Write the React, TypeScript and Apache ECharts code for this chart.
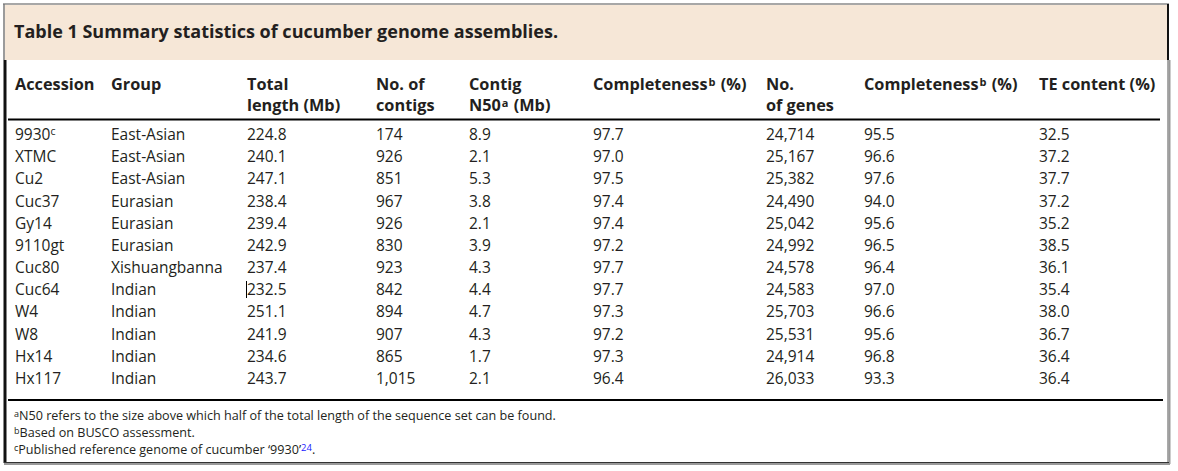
import React, { useEffect, useRef } from "react";
import * as echarts from "echarts";

const TITLE = "Table 1 Summary statistics of cucumber genome assemblies.";
const HEADER_LINE1 = ["Accession", "Group", "Total", "No. of", "Contig", "Completeness{sup|b} (%)", "No.", "Completeness{sup|b} (%)", "TE content (%)"];
const HEADER_LINE2 = ["", "", "length (Mb)", "contigs", "N50{sup|a} (Mb)", "", "of genes", "", ""];

const accessions = ["9930", "XTMC", "Cu2", "Cuc37", "Gy14", "9110gt", "Cuc80", "Cuc64", "W4", "W8", "Hx14", "Hx117"];
const accessionNotes = ["c", "", "", "", "", "", "", "", "", "", "", ""];
const groups = ["East-Asian", "East-Asian", "East-Asian", "Eurasian", "Eurasian", "Eurasian", "Xishuangbanna", "Indian", "Indian", "Indian", "Indian", "Indian"];
const totalLength = [224.8, 240.1, 247.1, 238.4, 239.4, 242.9, 237.4, 232.5, 251.1, 241.9, 234.6, 243.7];
const contigs = [174, 926, 851, 967, 926, 830, 923, 842, 894, 907, 865, 1015];
const contigN50 = [8.9, 2.1, 5.3, 3.8, 2.1, 3.9, 4.3, 4.4, 4.7, 4.3, 1.7, 2.1];
const asmCompleteness = [97.7, 97.0, 97.5, 97.4, 97.4, 97.2, 97.7, 97.7, 97.3, 97.2, 97.3, 96.4];
const genes = [24714, 25167, 25382, 24490, 25042, 24992, 24578, 24583, 25703, 25531, 24914, 26033];
const geneCompleteness = [95.5, 96.6, 97.6, 94.0, 95.6, 96.5, 96.4, 97.0, 96.6, 95.6, 96.8, 93.3];
const teContent = [32.5, 37.2, 37.7, 37.2, 35.2, 38.5, 36.1, 35.4, 38.0, 36.7, 36.4, 36.4];

const FOOTNOTES = [
  "{sup|a}N50 refers to the size above which half of the total length of the sequence set can be found.",
  "{sup|b}Based on BUSCO assessment.",
  "{sup|c}Published reference genome of cucumber \u20189930\u2019{ref|24}.",
];

// layout (pixels)
const COL_X = [15, 111, 247, 376, 469, 593, 766, 864, 1039];
const FONT = "'Open Sans', 'Noto Sans', sans-serif";
const TEXT_COLOR = "#231f20";

function fmt1(v: number) {
  return v.toFixed(1);
}
function fmtInt(v: number) {
  return v.toLocaleString("en-US");
}

function rowCells(i: number): string[] {
  const acc = accessionNotes[i] ? accessions[i] + "{sup|" + accessionNotes[i] + "}" : accessions[i];
  return [
    acc,
    groups[i],
    fmt1(totalLength[i]),
    fmtInt(contigs[i]),
    fmt1(contigN50[i]),
    fmt1(asmCompleteness[i]),
    fmtInt(genes[i]),
    fmt1(geneCompleteness[i]),
    fmt1(teContent[i]),
  ];
}

export default function App() {
  const ref = useRef<HTMLDivElement>(null);
  useEffect(() => {
    if (!ref.current) return;
    const chart = echarts.init(ref.current, null, { renderer: "svg" });
    const supRich = {
      sup: { fontSize: 10.5, verticalAlign: "top", fontFamily: FONT, fill: TEXT_COLOR, lineHeight: 10 },
    };
    const headerRich = {
      sup: { fontSize: 11, verticalAlign: "top", fontFamily: FONT, fontWeight: "bold", fill: TEXT_COLOR, lineHeight: 10, padding: [0, 1, 0, 1] },
    };
    const graphic: any[] = [];
    // header background
    graphic.push({ type: "rect", shape: { x: 5, y: 5, width: 1163, height: 55 }, style: { fill: "#f6e7d7" }, z: 0 });
    // frame
    graphic.push({ type: "line", shape: { x1: 3, y1: 4, x2: 1169, y2: 4 }, style: { stroke: "#8a8a8a", lineWidth: 1.5 }, z: 5 });
    graphic.push({ type: "line", shape: { x1: 4, y1: 4, x2: 4, y2: 60 }, style: { stroke: "#7a7a7a", lineWidth: 1.5 }, z: 5 });
    graphic.push({ type: "line", shape: { x1: 5, y1: 60, x2: 5, y2: 463 }, style: { stroke: "#111", lineWidth: 3 }, z: 5 });
    graphic.push({ type: "line", shape: { x1: 1168, y1: 4, x2: 1168, y2: 60 }, style: { stroke: "#111", lineWidth: 2 }, z: 5 });
    graphic.push({ type: "line", shape: { x1: 1168, y1: 60, x2: 1168, y2: 463 }, style: { stroke: "#555", lineWidth: 1 }, z: 5 });
    graphic.push({ type: "line", shape: { x1: 1169.5, y1: 60, x2: 1169.5, y2: 464 }, style: { stroke: "#999", lineWidth: 2 }, z: 5 });
    graphic.push({ type: "line", shape: { x1: 4, y1: 462.5, x2: 1169, y2: 462.5 }, style: { stroke: "#333", lineWidth: 1 }, z: 5 });
    graphic.push({ type: "line", shape: { x1: 4, y1: 464, x2: 1170, y2: 464 }, style: { stroke: "#999", lineWidth: 2 }, z: 5 });
    // rules
    graphic.push({ type: "line", shape: { x1: 8, y1: 119.5, x2: 1160, y2: 119.5 }, style: { stroke: "#000", lineWidth: 2 }, z: 5 });
    graphic.push({ type: "line", shape: { x1: 8, y1: 400, x2: 1163, y2: 400 }, style: { stroke: "#000", lineWidth: 2 }, z: 5 });
    // title
    graphic.push({
      type: "text", x: 14, y: 31, z: 6,
      style: { text: TITLE, fontFamily: FONT, fontWeight: "bold", fontSize: 18, fill: TEXT_COLOR, verticalAlign: "middle" },
    });
    // headers
    COL_X.forEach((x, c) => {
      graphic.push({
        type: "text", x, y: 84, z: 6,
        style: { text: HEADER_LINE1[c], fontFamily: FONT, fontWeight: "bold", fontSize: 16.3, fill: TEXT_COLOR, verticalAlign: "middle", rich: headerRich },
      });
      if (HEADER_LINE2[c]) {
        graphic.push({
          type: "text", x, y: 105, z: 6,
          style: { text: HEADER_LINE2[c], fontFamily: FONT, fontWeight: "bold", fontSize: 16.3, fill: TEXT_COLOR, verticalAlign: "middle", rich: headerRich },
        });
      }
    });
    // footnotes
    FOOTNOTES.forEach((t, i) => {
      graphic.push({
        type: "text", x: 14, y: 415 + i * 17, z: 6,
        style: {
          text: t, fontFamily: FONT, fontSize: 12.6, fill: TEXT_COLOR, verticalAlign: "middle",
          rich: {
            sup: { fontSize: 9, verticalAlign: "top", fontFamily: FONT, fill: TEXT_COLOR, lineHeight: 8 },
            ref: { fontSize: 9.5, verticalAlign: "top", fontFamily: FONT, fill: "#1a1aff", lineHeight: 8 },
          },
        },
      });
    });
    // text caret seen in the Cuc64 row
    graphic.push({ type: "line", shape: { x1: 246.5, y1: 281, x2: 246.5, y2: 298 }, style: { stroke: "#000", lineWidth: 1 }, z: 6 });

    chart.setOption({
      animation: false,
      grid: { left: 0, right: 0, top: 122.9, height: 266.2 },
      xAxis: { type: "value", min: 0, max: 1, show: false },
      yAxis: { type: "category", data: accessions, inverse: true, show: false },
      graphic,
      series: [
        {
          type: "custom",
          clip: false,
          silent: true,
          data: accessions.map((_, i) => [0, i]),
          encode: { x: 0, y: 1 },
          renderItem: (params: any, api: any) => {
            const i = params.dataIndex;
            const y = api.coord([0, i])[1];
            const cells = rowCells(i);
            return {
              type: "group",
              children: cells.map((txt, c) => ({
                type: "text",
                x: COL_X[c],
                y,
                style: { text: txt, fontFamily: FONT, fontSize: 15.5, fill: TEXT_COLOR, verticalAlign: "middle", rich: supRich },
              })),
            };
          },
        },
      ],
    });
    return () => chart.dispose();
  }, []);
  return <div ref={ref} style={{ position: "fixed", left: 0, top: 0, width: 1178, height: 471, background: "#fff" }} />;
}
